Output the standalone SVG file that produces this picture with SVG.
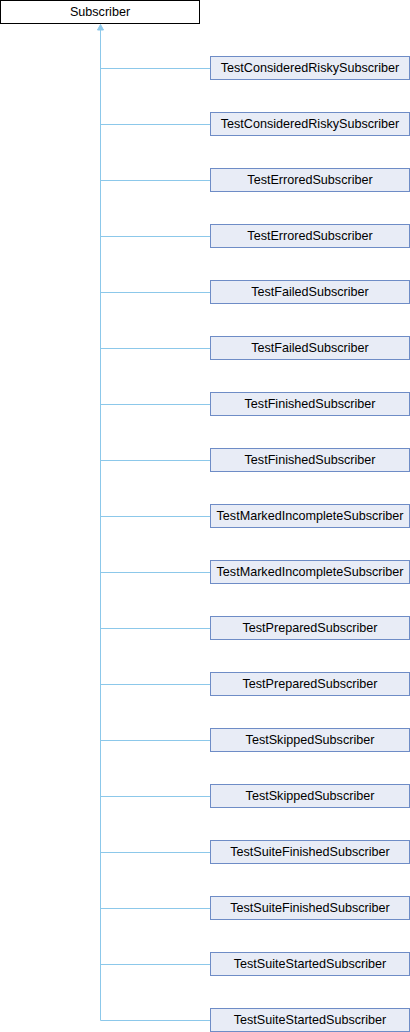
<svg xmlns="http://www.w3.org/2000/svg" width="410" height="1032" viewBox="0 0 410 1032">
<style>
.n rect{fill:#E8ECF6;stroke:#6E8CC6;stroke-width:1}
.r rect{fill:#FFFFFF;stroke:#000000;stroke-width:1}
text{font-family:"Liberation Sans",Arial,sans-serif;font-size:12.6px;fill:#000;text-anchor:middle}
.e{stroke:#8CC8EA;stroke-width:1;fill:none}
</style>
<g id="edges">
<path class="e" d="M100.5,29 V1020.5"/>
<path d="M100.5,24.5 L97.5,30 L103.5,30 Z" fill="#8CC8EA" stroke="#8CC8EA" stroke-width="1"/>
<path class="e" d="M100.5,68.5H210 M100.5,124.5H210 M100.5,180.5H210 M100.5,236.5H210 M100.5,292.5H210 M100.5,348.5H210 M100.5,404.5H210 M100.5,460.5H210 M100.5,516.5H210 M100.5,572.5H210 M100.5,628.5H210 M100.5,684.5H210 M100.5,740.5H210 M100.5,796.5H210 M100.5,852.5H210 M100.5,908.5H210 M100.5,964.5H210 M100.5,1020.5H210"/>
</g>
<g id="Subscriber" class="r"><rect x="0.5" y="0.5" width="199" height="23"/><text x="100" y="16">Subscriber</text></g>
<g id="n1" class="n"><rect x="210.5" y="56.5" width="199" height="23"/><text x="310" y="72">TestConsideredRiskySubscriber</text></g>
<g id="n2" class="n"><rect x="210.5" y="112.5" width="199" height="23"/><text x="310" y="128">TestConsideredRiskySubscriber</text></g>
<g id="n3" class="n"><rect x="210.5" y="168.5" width="199" height="23"/><text x="310" y="184">TestErroredSubscriber</text></g>
<g id="n4" class="n"><rect x="210.5" y="224.5" width="199" height="23"/><text x="310" y="240">TestErroredSubscriber</text></g>
<g id="n5" class="n"><rect x="210.5" y="280.5" width="199" height="23"/><text x="310" y="296">TestFailedSubscriber</text></g>
<g id="n6" class="n"><rect x="210.5" y="336.5" width="199" height="23"/><text x="310" y="352">TestFailedSubscriber</text></g>
<g id="n7" class="n"><rect x="210.5" y="392.5" width="199" height="23"/><text x="310" y="408">TestFinishedSubscriber</text></g>
<g id="n8" class="n"><rect x="210.5" y="448.5" width="199" height="23"/><text x="310" y="464">TestFinishedSubscriber</text></g>
<g id="n9" class="n"><rect x="210.5" y="504.5" width="199" height="23"/><text x="310" y="520">TestMarkedIncompleteSubscriber</text></g>
<g id="n10" class="n"><rect x="210.5" y="560.5" width="199" height="23"/><text x="310" y="576">TestMarkedIncompleteSubscriber</text></g>
<g id="n11" class="n"><rect x="210.5" y="616.5" width="199" height="23"/><text x="310" y="632">TestPreparedSubscriber</text></g>
<g id="n12" class="n"><rect x="210.5" y="672.5" width="199" height="23"/><text x="310" y="688">TestPreparedSubscriber</text></g>
<g id="n13" class="n"><rect x="210.5" y="728.5" width="199" height="23"/><text x="310" y="744">TestSkippedSubscriber</text></g>
<g id="n14" class="n"><rect x="210.5" y="784.5" width="199" height="23"/><text x="310" y="800">TestSkippedSubscriber</text></g>
<g id="n15" class="n"><rect x="210.5" y="840.5" width="199" height="23"/><text x="310" y="856">TestSuiteFinishedSubscriber</text></g>
<g id="n16" class="n"><rect x="210.5" y="896.5" width="199" height="23"/><text x="310" y="912">TestSuiteFinishedSubscriber</text></g>
<g id="n17" class="n"><rect x="210.5" y="952.5" width="199" height="23"/><text x="310" y="968">TestSuiteStartedSubscriber</text></g>
<g id="n18" class="n"><rect x="210.5" y="1008.5" width="199" height="23"/><text x="310" y="1024">TestSuiteStartedSubscriber</text></g>
</svg>
